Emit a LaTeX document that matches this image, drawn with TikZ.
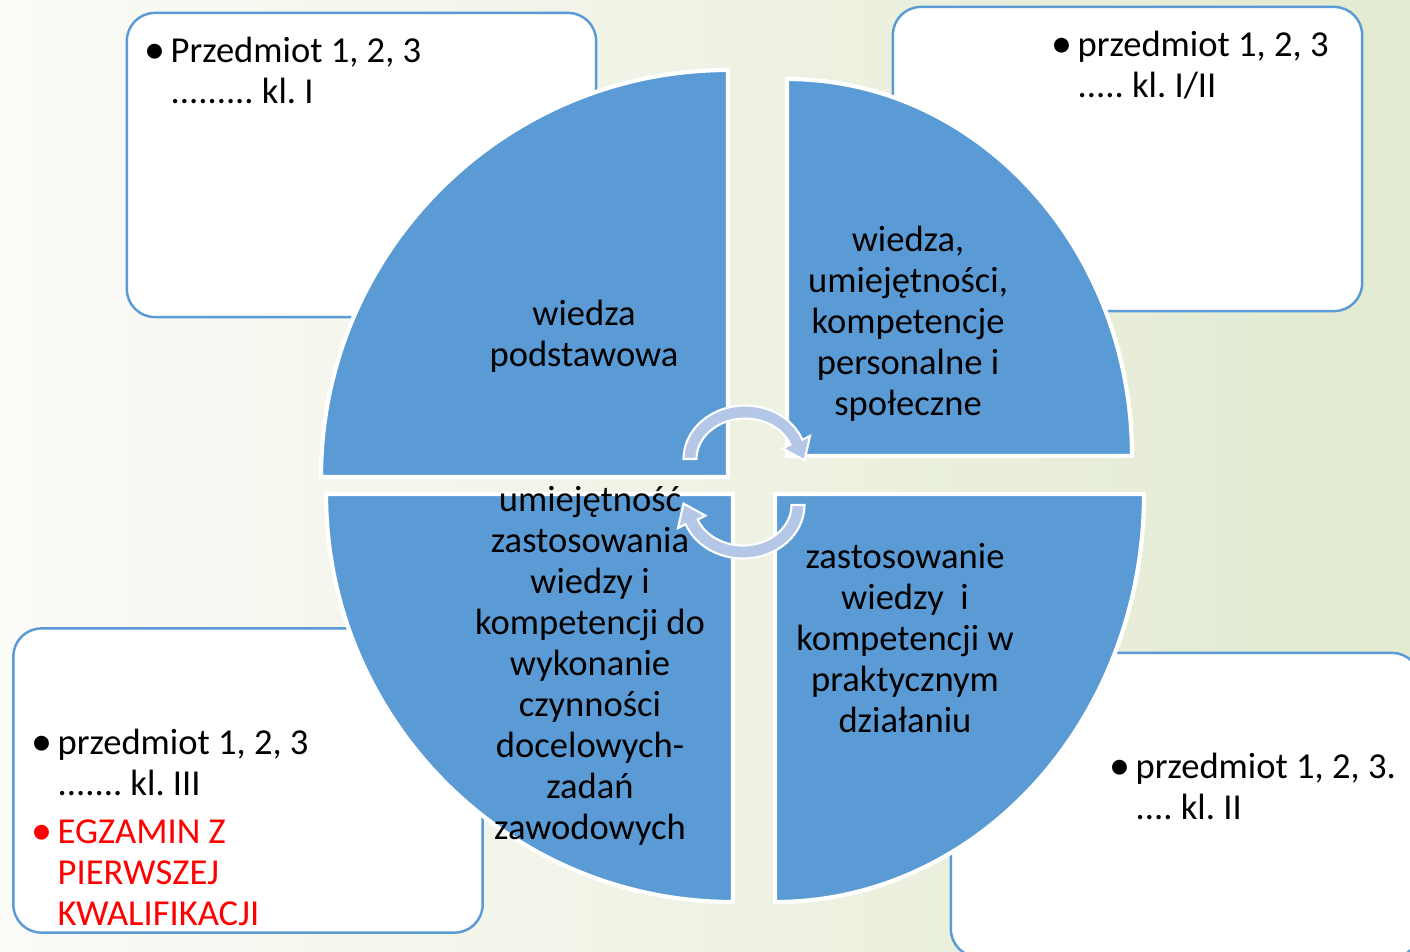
\documentclass[tikz,border=0pt]{standalone}
\usepackage{fontspec}
\setmainfont{Carlito}
\definecolor{pieblue}{RGB}{91,155,213}
\definecolor{arrowblue}{RGB}{180,199,231}
\definecolor{bgleft}{RGB}{251,251,248}
\definecolor{bgmid}{RGB}{243,245,235}
\definecolor{bgright}{RGB}{226,234,208}
\definecolor{examred}{RGB}{255,0,0}
\newcommand\itm{\makebox[0pt][r]{\raisebox{-0.3pt}{\scalebox{1.15}{\textbullet}}\hspace{1.6pt}}}

\begin{document}
\frenchspacing
\begin{tikzpicture}[x=0.01cm, y=0.01cm,
  box/.style={draw=pieblue, line width=0.7pt, fill=white, rounded corners=0.28cm,
    minimum width=4.69cm, minimum height=3.04cm},
  pie/.style={fill=pieblue, draw=white, line width=1.2pt},
  cyc/.style={fill=arrowblue, draw=white, line width=0.6pt},
  lbl/.style={align=center, font=\fontsize{10.4}{11.67}\selectfont},
  pts/.style={align=left, anchor=north west, inner sep=0pt, font=\fontsize{10.4}{11.67}\selectfont}]
    \useasboundingbox (0,0) rectangle (1410,-951);
    \clip (0,0) rectangle (1410,-951);
    \shade[left color=bgleft, middle color=bgmid, right color=bgright] (0,0) rectangle (1410,-951);

    % boxes in the corners
    \node[box] (klI) at (361.5,-165) {};
    \node[box] (klIorII) at (1127.5,-159) {};
    \node[box] (klIII) at (248,-780.5) {};
    \node[box] (klII) at (1185.5,-805) {};

    % the four quarters
    \filldraw[pie] (728,-477) -- (321,-477) arc[start angle=180, end angle=90, radius=407] -- cycle;
    \filldraw[pie] (787,-456) -- (787,-79) arc[start angle=90, end angle=0, x radius=345, y radius=377] -- cycle;
    \filldraw[pie] (733,-494) -- (326,-494) arc[start angle=180, end angle=270, x radius=407, y radius=408] -- cycle;
    \filldraw[pie] (775,-494) -- (1144,-494) arc[start angle=0, end angle=-90, x radius=369, y radius=408] -- cycle;

    % circular arrows
    \filldraw[cyc] (683.5,-459) arc[start angle=180, end angle=21, x radius=61.5, y radius=53.5]
        -- (810,-436) -- (804.5,-460.4) -- (782.6,-448.4) -- (790.3,-444.5)
        arc[start angle=21, end angle=180, x radius=48.5, y radius=40.5] -- cycle;
    \filldraw[cyc] (804.5,-505) arc[start angle=0, end angle=-159, x radius=61.5, y radius=53.5]
        -- (678,-528) -- (683.5,-503.6) -- (705.4,-515.6) -- (697.7,-519.5)
        arc[start angle=-159, end angle=0, x radius=48.5, y radius=40.5] -- cycle;

    % labels
    \node[lbl] (basic) at (584,-336) {wiedza\\podstawowa};
    \node[lbl] (soft) at (908,-324) {wiedza,\\umiejętności,\\kompetencje\\personalne i\\społeczne};
    \node[lbl] (skill) at (590,-666) {umiejętność\\zastosowania\\wiedzy i\\kompetencji do\\wykonanie\\czynności\\docelowych-\\zadań\\zawodowych};
    \node[lbl] (practice) at (905,-638) {zastosowanie\\wiedzy\ \ i\\kompetencji w\\praktycznym\\działaniu};

    \node[pts] (txtI) at (170,-36) {\itm Przedmiot 1, 2, 3\\......... kl. I};
    \node[pts] (txtIorII) at (1077,-30) {\itm przedmiot 1, 2, 3\\..... kl. I/II};
    \node[pts] (txtIII) at (57,-728) {\itm przedmiot 1, 2, 3\\....... kl. III\\[2pt]
        \textcolor{examred}{\itm EGZAMIN Z}\\\textcolor{examred}{PIERWSZEJ}\\\textcolor{examred}{KWALIFIKACJI}};
    \node[pts] (txtII) at (1135,-752) {\itm przedmiot 1, 2, 3.\\.... kl. II};
\end{tikzpicture}
\end{document}
